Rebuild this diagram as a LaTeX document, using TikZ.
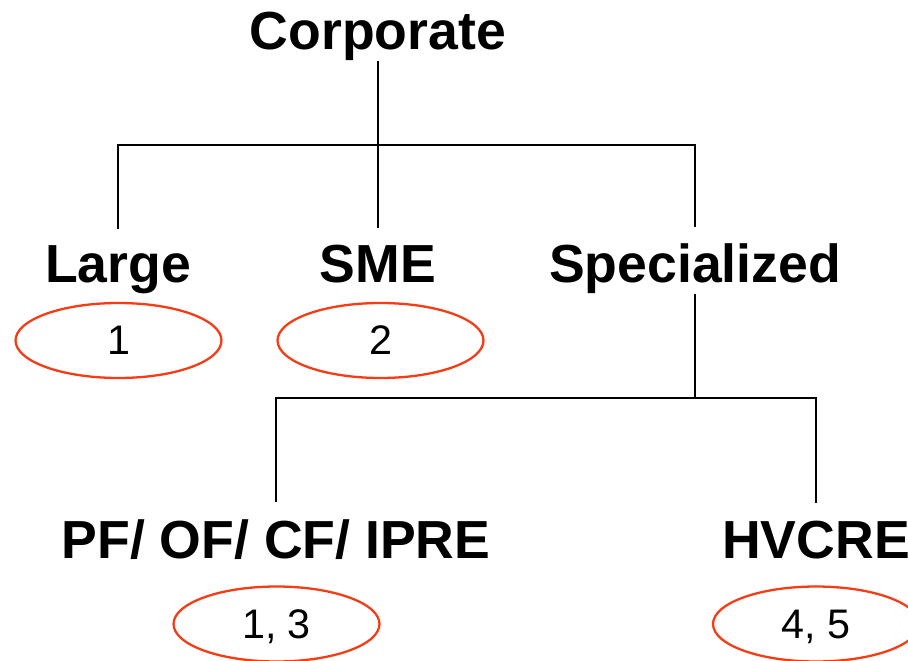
\documentclass[tikz,border=0pt]{standalone}
\usepackage{fontspec}
\setmainfont{Liberation Sans}
\usetikzlibrary{positioning,shapes.geometric}
\definecolor{ratingRed}{RGB}{245,60,20}

\begin{document}
\begin{tikzpicture}[
  x=0.02cm,
  y=-0.02cm,
  level/.style={
    inner sep=0pt,
    anchor=base,
    font=\fontsize{30.5}{36}\selectfont\bfseries
  },
  grade/.style={
    draw=ratingRed,
    ellipse,
    line width=1.3pt,
    minimum width=4.12cm,
    minimum height=1.5cm,
    inner sep=0pt,
    text depth=0pt,
    font=\fontsize{23.5}{28}\selectfont
  },
  link/.style={line width=1.1pt,black},
  drop/.style={link,shorten <=0.34cm,shorten >=0.34cm}
]
  \useasboundingbox (0,0) rectangle (908,661);

  % top level
  \node[level] (corporate) at (378,50) {Corporate};
  \coordinate (fork1) at (378,145);

  \node[level] (large) at (118,283) {Large};
  \node[level] (sme) at (378,283) {SME};
  \node[level] (special) at (695,283) {Specialized};

  \node[grade] (gLarge) at (118.5,340.5) {1};
  \node[grade] (gSme) at (380.5,340.5) {2};

  \draw[link] (corporate.south) -- (fork1);
  \draw[drop] (large.north) |- (fork1) -| (special.north);
  \draw[link,shorten >=0.34cm] (fork1) -- (sme.north);

  % specialized lending
  \coordinate (fork2) at (695,398);

  \node[level] (pf) at (276,558) {PF/ OF/ CF/ IPRE};
  \node[level] (hvcre) at (816,558) {HVCRE};

  \node[grade] (gPf) at (276.5,624) {1, 3};
  \node[grade] (gHvcre) at (816,624) {4, 5};

  \draw[link] (special.south) -- (fork2);
  \draw[drop] (pf.north) |- (fork2) -| (hvcre.north);
\end{tikzpicture}
\end{document}
